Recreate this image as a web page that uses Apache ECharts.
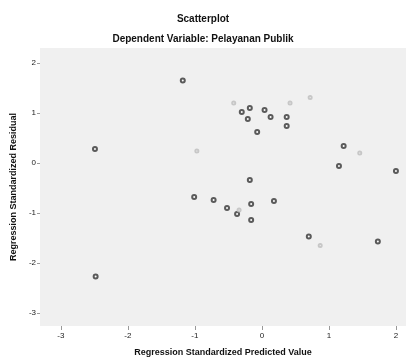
<!DOCTYPE html>
<html>
<head>
<meta charset="utf-8">
<script src="https://cdn.jsdelivr.net/npm/echarts@6/dist/echarts.min.js"></script>
<style>html,body{margin:0;padding:0;background:#fff;}#c{width:406px;height:362px;}</style>
</head>
<body>
<div id="c"></div>
<script>
var titleText = "Scatterplot";
var subtitleText = "Dependent Variable: Pelayanan Publik";
var xAxisTitle = "Regression Standardized Predicted Value";
var yAxisTitle = "Regression Standardized Residual";
var xTicks = [-3, -2, -1, 0, 1, 2];
var yTicks = [-3, -2, -1, 0, 1, 2];
var predicted = [-1.18, -2.49, -2.48, -1.01, -0.72, -0.52, -0.37, -0.16, -0.16, 0.18, 0.70, 1.73, -0.18, -0.18, -0.30, -0.21, 0.04, 0.13, 0.37, 0.37, -0.07, 1.22, 1.15, 2.00];
var residual  = [1.65, 0.28, -2.27, -0.68, -0.74, -0.90, -1.02, -0.82, -1.14, -0.76, -1.47, -1.57, -0.34, 1.10, 1.02, 0.88, 1.06, 0.92, 0.92, 0.74, 0.62, 0.34, -0.06, -0.16];
var predictedFaint = [-0.42, 0.72, 1.46, -0.97, 0.42, 0.87, -0.34];
var residualFaint  = [1.20, 1.31, 0.20, 0.24, 1.20, -1.65, -0.94];

var pts = predicted.map(function (v, i) { return [v, residual[i]]; });
var ptsFaint = predictedFaint.map(function (v, i) { return [v, residualFaint[i]]; });

var font = "Liberation Sans, Arial, sans-serif";
var chart = echarts.init(document.getElementById('c'), null, {renderer: 'canvas'});
chart.setOption({
  animation: false,
  backgroundColor: '#ffffff',
  title: [
    {text: titleText, left: 'center', top: 9, textStyle: {fontFamily: font, fontSize: 10, fontWeight: 'bold', color: '#111'}},
    {text: subtitleText, left: 'center', top: 29, textStyle: {fontFamily: font, fontSize: 10, fontWeight: 'bold', color: '#111'}}
  ],
  grid: {left: 40, right: 0, top: 48, bottom: 35, show: true, backgroundColor: '#f0f0f0', borderWidth: 0},
  xAxis: {
    type: 'value', min: -3.31, max: 2.15,
    name: xAxisTitle, nameLocation: 'middle', nameGap: 22,
    nameTextStyle: {fontFamily: font, fontSize: 9, fontWeight: 'bold', color: '#111'},
    axisLine: {show: false, onZero: false},
    splitLine: {show: false},
    axisTick: {show: true, length: 4, lineStyle: {color: '#999'}, customValues: xTicks},
    axisLabel: {customValues: xTicks, fontFamily: font, fontSize: 8, color: '#222', margin: 6}
  },
  yAxis: {
    type: 'value', min: -3.26, max: 2.3,
    name: yAxisTitle, nameLocation: 'middle', nameGap: 20,
    nameTextStyle: {fontFamily: font, fontSize: 9, fontWeight: 'bold', color: '#111'},
    axisLine: {show: false, onZero: false},
    splitLine: {show: false},
    axisTick: {show: true, length: 3, lineStyle: {color: '#999'}, customValues: yTicks},
    axisLabel: {customValues: yTicks, fontFamily: font, fontSize: 8, color: '#222', margin: 4}
  },
  series: [
    {type: 'scatter', data: pts, symbol: 'emptyCircle', symbolSize: 4,
     itemStyle: {color: '#333', borderColor: '#333', borderWidth: 1}},
    {type: 'scatter', data: ptsFaint, symbol: 'emptyCircle', symbolSize: 3,
     itemStyle: {color: '#bbb', borderColor: '#bbb', borderWidth: 1}}
  ]
});
</script>
</body>
</html>
